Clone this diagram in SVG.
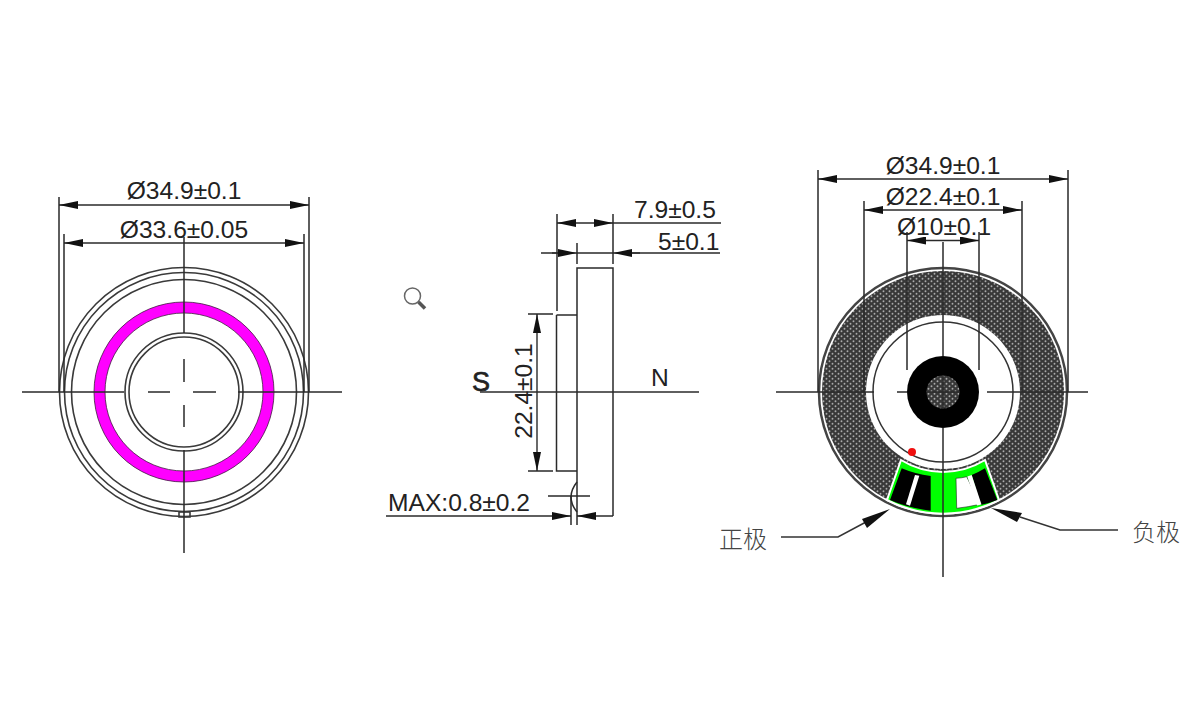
<svg xmlns="http://www.w3.org/2000/svg" width="1200" height="717" viewBox="0 0 1200 717">
<style>
.l{fill:none;stroke:#2a2a2a;stroke-width:1.5}
.c{fill:none;stroke:#3a3a3a;stroke-width:1.6}
.d{fill:none;stroke:#2a2a2a;stroke-width:1.4;marker-start:url(#ah);marker-end:url(#ah)}
.e{fill:none;stroke:#2a2a2a;stroke-width:1.4;marker-end:url(#ah)}
.t{font-family:"Liberation Sans",Arial,sans-serif;font-size:24.6px;fill:#222}
.m{text-anchor:middle}
.z{font-family:"Noto Sans CJK SC",sans-serif;font-size:24px;fill:#444;font-weight:300}
</style>
<defs>
<marker id="ah" viewBox="0 0 19 8" refX="19" refY="4" markerWidth="19" markerHeight="8" markerUnits="userSpaceOnUse" orient="auto-start-reverse"><path d="M0 0L19 4L0 8Z" fill="#111"/></marker>
<pattern id="mesh" width="6" height="5" patternUnits="userSpaceOnUse"><rect width="6" height="5" fill="#383838"/><circle cx="1.5" cy="1.2" r=".95" fill="#aaa"/><circle cx="4.5" cy="3.7" r=".95" fill="#aaa"/></pattern>
</defs>
<rect width="1200" height="717" fill="#fff"/>

<g id="view-front">
<circle class="c" cx="184" cy="392" r="124.500"/>
<circle class="c" cx="184" cy="392" r="119.500"/>
<circle class="c" cx="184" cy="392" r="112.500"/>
<circle cx="184" cy="392" r="84.500" fill="none" stroke="#f0f" stroke-width="11"/>
<circle cx="184" cy="392" r="90" fill="none" stroke="#402040" stroke-width=".8"/>
<circle cx="184" cy="392" r="79" fill="none" stroke="#402040" stroke-width=".8"/>
<circle class="c" cx="184" cy="392" r="59"/>
<circle class="c" cx="184" cy="392" r="55"/>
<rect class="c" x="179" y="512" width="11" height="5" stroke-width="1"/>
</g>

<g id="view-side">
<path class="l" d="M577 525V268H613V516"/>
<path class="l" d="M556.500 315V471H577"/>
<path class="l" d="M556.500 315H577"/>
<path class="l" d="M577 482Q565 497 577 512"/>
<path class="l" d="M571 496V525"/>
</g>

<g id="view-back">
<circle cx="943" cy="392" r="124" fill="#fff" stroke="#444" stroke-width="2.500"/>
<path d="M943 271a121 121 0 1 0 .01 0ZM943 315a77 77 0 1 1 -.01 0Z" fill="url(#mesh)" fill-rule="evenodd"/>
<circle cx="943" cy="392" r="70" fill="#fff" stroke="#333" stroke-width="1.500"/>
<circle cx="943" cy="392" r="36" fill="#000"/>
<circle cx="943" cy="392" r="16.500" fill="url(#mesh)"/>
<path d="M901 460A80 80 0 0 0 985 460L999 500A121.700 121.700 0 0 1 887 500Z" fill="#0f0" stroke="#fff" stroke-width="2"/>
<path d="M901.700 468.300Q915 474 930.700 476V510.700Q908 508 890 500Z" fill="#000"/>
<path d="M915 475L919.300 475.700L910 505.700L906 504.300Z" fill="#fff"/>
<path d="M956 478.300Q962 478 966.700 476.700L980 504.300Q968 507 956.700 508.300Z" fill="#fff" stroke="#222" stroke-width=".6"/>
<path d="M971.700 475Q979 472 985 468.300L997.300 500Q990 503 980.700 505Z" fill="#000"/>
<path d="M967.300 476.500L971.700 475L981.500 504.500L977 505.500Z" fill="#fff"/>
<circle cx="912" cy="452" r="4" fill="#f01010"/>
</g>

<g id="icon-search">
<circle cx="412.500" cy="296" r="8" fill="none" stroke="#666" stroke-width="1.500"/>
<path d="M418.500 302L425 308.500" stroke="#555" stroke-width="3.500" fill="none"/>
</g>

<g id="connectors">
<path class="l" d="M22 392H124M238 392H342"/>
<path class="l" d="M184 237V333M184 450V553"/>
<path class="l" d="M148 392H170M193 392H216M184 359V382M184 405V427"/>
<path class="l" d="M59 197V392M309 197V392M64 234V392M304 234V392"/>
<line class="d" x1="59" y1="205" x2="309" y2="205"/>
<line class="d" x1="64" y1="243" x2="304" y2="243"/>

<path class="l" d="M480 392H699"/>
<path class="l" d="M557 214V311M613 214V264M577 243V264M528 314H553M528 471H553M548 496H590"/>
<line class="d" x1="537" y1="314" x2="537" y2="471"/>
<line class="d" x1="557" y1="223" x2="613" y2="223"/>
<path class="l" d="M613 223H721"/>
<path class="l" d="M541 253H558M632 253H720M577 253H613"/>
<line class="e" x1="552" y1="253" x2="577" y2="253"/>
<line class="e" x1="640" y1="253" x2="613" y2="253"/>
<line class="e" x1="386" y1="516" x2="571" y2="516"/>
<line class="e" x1="613" y1="516" x2="577" y2="516"/>

<path class="l" d="M776 392H874M897 392H907M987 392H1088M927 392H960"/>
<path class="l" d="M943 242V356M943 375V409M943 428V577"/>
<path class="l" d="M818 170V392M1068 170V392M864 201V392M1022 201V392M907 232V370M979 232V370"/>
<line class="d" x1="818" y1="179" x2="1068" y2="179"/>
<line class="d" x1="864" y1="210" x2="1022" y2="210"/>
<line class="d" x1="907" y1="240.500" x2="979" y2="240.500"/>

<path d="M781 537H838L866 522" fill="none" stroke="#333" stroke-width="1.500"/>
<path d="M890 509L867 528L862 519Z" fill="#111"/>
<path d="M1118 530H1060L1020 517" fill="none" stroke="#333" stroke-width="1.500"/>
<path d="M991 508L1022 513L1017 522Z" fill="#111"/>
</g>

<g id="labels">
<text class="t m" x="184" y="199">Ø34.9±0.1</text>
<text class="t m" x="184" y="238">Ø33.6±0.05</text>
<text class="t" x="634" y="218">7.9±0.5</text>
<text class="t" x="658" y="250">5±0.1</text>
<text class="t m" transform="translate(532 391) rotate(-90)">22.4±0.1</text>
<text class="t" x="472" y="391" style="font-size:27px;stroke:#222;stroke-width:.7">S</text>
<text class="t" x="651" y="386">N</text>
<text class="t" x="388" y="511">MAX:0.8±0.2</text>
<text class="t m" x="943" y="174">Ø34.9±0.1</text>
<text class="t m" x="943" y="205">Ø22.4±0.1</text>
<text class="t m" x="944" y="235">Ø10±0.1</text>
<text class="z" x="719" y="548">正极</text>
<text class="z" x="1132" y="541">负极</text>
</g>
</svg>
